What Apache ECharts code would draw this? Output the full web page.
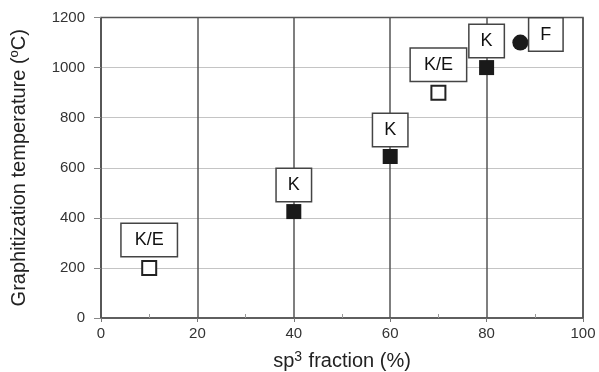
<!DOCTYPE html>
<html>
<head>
<meta charset="utf-8">
<script src="https://cdn.jsdelivr.net/npm/echarts@6/dist/echarts.min.js"></script>
<style>
  html, body { margin: 0; padding: 0; background: #fff; }
  #chart { width: 599px; height: 372px; }
</style>
</head>
<body>
<div id="chart"></div>
<script>
// sp3 fraction (%) and graphitization temperature (°C) per sample group
const openX = [10, 70];
const openY = [200, 900];
const openLabels = ['K/E', 'K/E'];

const filledX = [40, 60, 80];
const filledY = [425, 645, 1000];
const filledLabels = ['K', 'K', 'K'];

const circleX = [87];
const circleY = [1100];
const circleLabels = ['F'];

const xTicks = [0, 20, 40, 60, 80, 100];
const yTicks = [0, 200, 400, 600, 800, 1000, 1200];

const FONT = 'Liberation Sans, Arial, sans-serif';

function boxLabel(text) {
  const wide = text.length > 1;
  return {
    show: true,
    formatter: text,
    color: '#111',
    fontFamily: FONT,
    fontSize: 18,
    lineHeight: 18,
    backgroundColor: '#fff',
    borderColor: '#444',
    borderWidth: 1.5,
    opacity: 1,
    padding: wide ? [7, 13, 7, 13] : [7, 11, 7, 11]
  };
}

function points(xs, ys, labels, extra) {
  return xs.map((x, i) => ({
    value: [x, ys[i]],
    label: Object.assign(boxLabel(labels[i]), extra || {})
  }));
}

const chart = echarts.init(document.getElementById('chart'), null, { renderer: 'canvas' });

const xRange = { min: xTicks[0], max: xTicks[xTicks.length - 1], interval: 20 };

chart.setOption({
  animation: false,
  backgroundColor: '#fff',
  grid: {
    left: 101, right: 16, top: 17.5, bottom: 54,
    outerBoundsMode: 'none',
    containLabel: false,
    show: true, borderColor: '#555', borderWidth: 1.5
  },
  xAxis: [
    Object.assign({
      type: 'value',
      position: 'bottom',
      name: 'sp{sup|3} fraction (%)',
      nameLocation: 'middle',
      nameGap: 32,
      nameTextStyle: {
        fontFamily: FONT, fontSize: 20, color: '#222',
        rich: { sup: { fontFamily: FONT, fontSize: 14, color: '#222', verticalAlign: 'top', padding: [0, 1, 8, 0] } }
      },
      axisLine: { show: true, lineStyle: { color: '#555', width: 1.5 } },
      axisTick: { show: true, inside: false, length: 4, lineStyle: { color: '#777', width: 1 } },
      axisLabel: { fontFamily: FONT, fontSize: 15, color: '#333', margin: 8, formatter: v => String(v) },
      splitLine: { show: true, lineStyle: { color: '#555', width: 1.5 } }
    }, xRange),
    // companion axis carrying only the short inward minor ticks
    Object.assign({
      type: 'value',
      position: 'bottom',
      axisLine: { show: false },
      axisTick: { show: false, inside: true },
      minorTick: { show: true, splitNumber: 2, length: 4, lineStyle: { color: '#999', width: 1 } },
      axisLabel: { show: false },
      splitLine: { show: false }
    }, xRange)
  ],
  yAxis: {
    type: 'value',
    min: yTicks[0], max: yTicks[yTicks.length - 1], interval: 200,
    name: 'Graphitization temperature ({sup|o}C)',
    nameLocation: 'middle',
    nameGap: 71,
    nameTextStyle: {
      fontFamily: FONT, fontSize: 20, color: '#222',
      rich: { sup: { fontFamily: FONT, fontSize: 13, color: '#222', verticalAlign: 'top', padding: [0, 0, 9, 0] } }
    },
    axisLine: { show: true, lineStyle: { color: '#555', width: 1.5 } },
    axisTick: { show: true, inside: false, length: 7, lineStyle: { color: '#888', width: 1 } },
    axisLabel: { fontFamily: FONT, fontSize: 15, color: '#333', margin: 16, formatter: v => String(v) },
    splitLine: { show: true, showMinLine: false, showMaxLine: false, lineStyle: { color: '#c4c4c4', width: 1 } }
  },
  series: [
    {
      type: 'scatter',
      symbol: 'rect',
      symbolSize: 14,
      itemStyle: { color: '#fff', borderColor: '#222', borderWidth: 2, opacity: 1 },
      data: points(openX, openY, openLabels, { position: 'top', distance: 4 })
    },
    {
      type: 'scatter',
      symbol: 'rect',
      symbolSize: 15,
      itemStyle: { color: '#1a1a1a', opacity: 1 },
      data: points(filledX, filledY, filledLabels, { position: 'top', distance: 3 })
    },
    {
      type: 'scatter',
      symbol: 'circle',
      symbolSize: 16,
      itemStyle: { color: '#1a1a1a', opacity: 1 },
      data: points(circleX, circleY, circleLabels, { position: 'right', distance: 1, offset: [0, -8] })
    }
  ]
});
</script>
</body>
</html>
